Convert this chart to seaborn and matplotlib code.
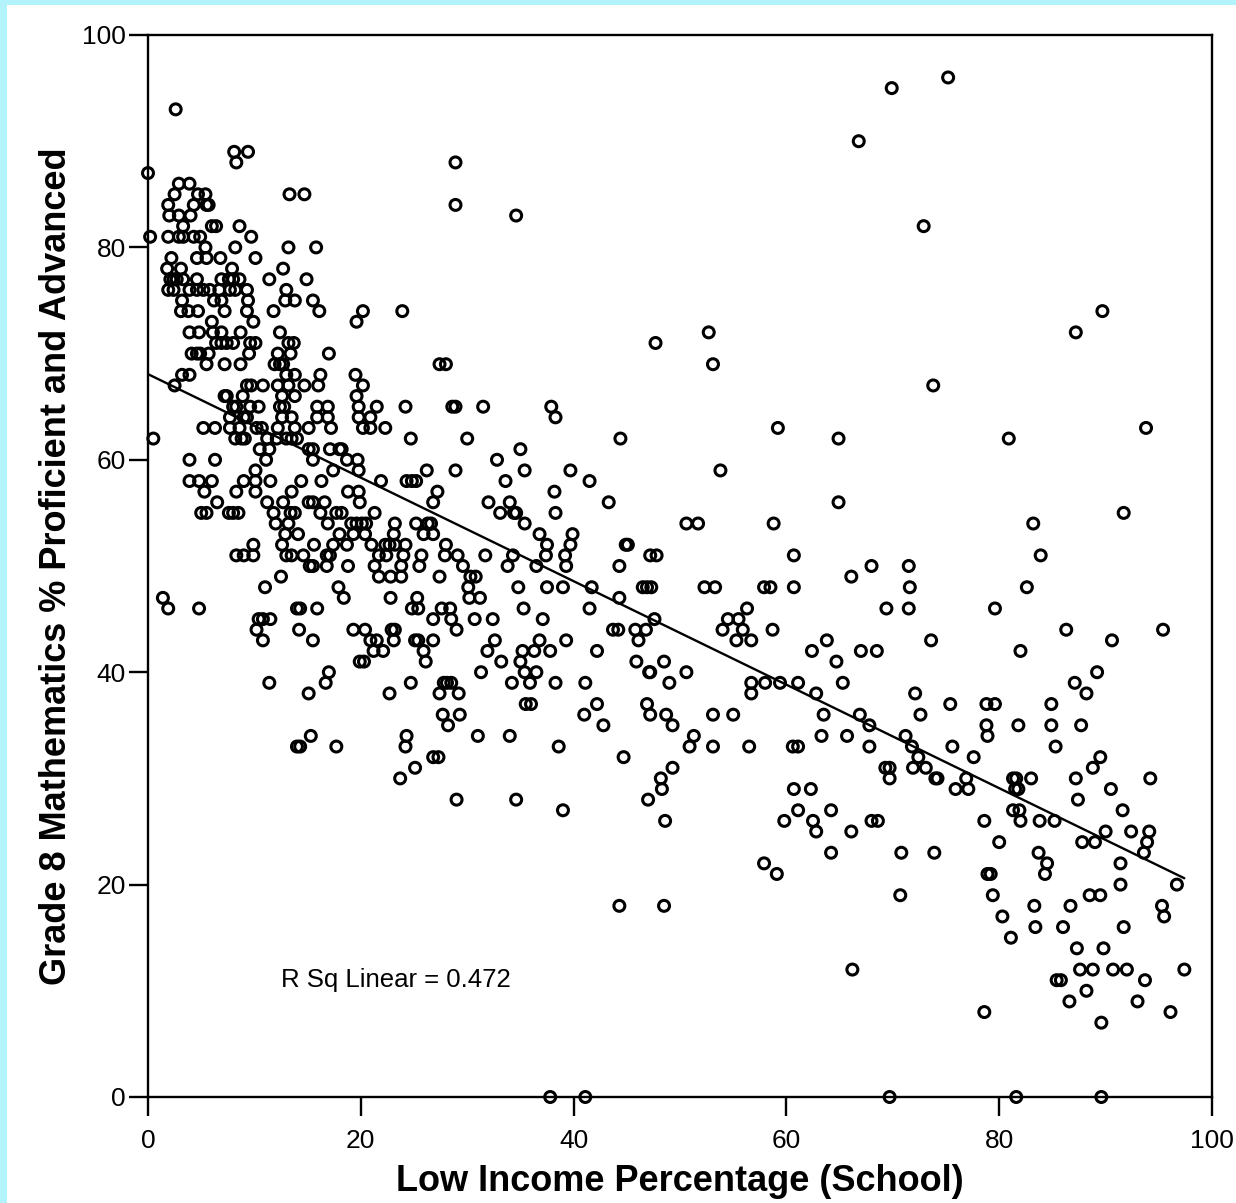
import matplotlib
matplotlib.use("Agg")
import matplotlib.pyplot as plt
import matplotlib.patches as mpatches
import seaborn as sns
import numpy as np
import pandas as pd

# Grade 8 math % proficient (integer levels) and the schools' low income % at each level
score_levels = [96, 95, 93, 90, 89, 88, 87, 86, 85, 84, 83, 82, 81, 80, 79, 78, 77, 76, 75, 74,
                73, 72, 71, 70, 69, 68, 67, 66, 65, 64, 63, 62, 61, 60, 59, 58, 57, 56, 55, 54,
                53, 52, 51, 50, 49, 48, 47, 46, 45, 44, 43, 42, 41, 40, 39, 38, 37, 36, 35, 34,
                33, 32, 31, 30, 29, 28, 27, 26, 25, 24, 23, 22, 21, 20, 19, 18, 17, 16, 15, 14,
                12, 11, 10, 9, 8, 7, 0]

income_by_level = [
    [75.2],
    [69.9],
    [2.6],
    [66.8],
    [8.1, 9.4],
    [8.3, 28.9],
    [0.0],
    [2.9, 3.9],
    [2.5, 4.7, 5.4, 13.3, 14.7],
    [1.9, 4.3, 5.5, 5.7, 28.9],
    [2.0, 2.9, 4.0, 34.6],
    [3.3, 6.0, 6.4, 8.6, 72.9],
    [0.2, 1.9, 2.9, 3.3, 4.3, 4.9, 9.7],
    [5.4, 8.2, 13.2, 15.8],
    [2.2, 4.6, 5.5, 6.8, 10.1],
    [1.8, 3.1, 7.9, 12.7],
    [2.1, 2.4, 2.7, 3.3, 4.6, 6.9, 7.6, 8.0, 8.6, 11.4, 14.9],
    [1.9, 2.4, 3.9, 4.6, 5.2, 5.8, 6.7, 7.7, 8.2, 9.3, 13.0],
    [3.2, 6.2, 6.9, 9.4, 12.9, 13.8, 15.5],
    [3.1, 3.8, 4.7, 7.2, 9.3, 11.8, 16.1, 20.2, 23.9, 89.7],
    [6.0, 9.9, 19.6],
    [3.9, 4.8, 6.1, 6.9, 8.7, 12.4, 52.7, 87.2],
    [6.4, 6.9, 7.4, 8.0, 9.6, 10.1, 13.2, 13.7, 47.7],
    [4.1, 4.6, 4.9, 5.7, 9.5, 12.2, 13.4, 17.0],
    [5.5, 7.2, 8.7, 11.9, 12.4, 12.7, 27.4, 28.0, 53.1],
    [3.2, 3.9, 13.0, 13.8, 16.2, 19.5],
    [2.5, 9.3, 9.7, 10.8, 12.2, 13.2, 14.7, 16.0, 20.2, 73.8],
    [7.2, 7.4, 8.9, 12.6, 13.8, 19.6],
    [8.0, 8.3, 9.6, 10.4, 12.4, 12.8, 15.9, 16.9, 19.8, 21.5, 24.2, 28.6, 28.9, 31.5, 37.9],
    [7.7, 9.0, 9.3, 12.6, 13.5, 15.9, 16.9, 19.8, 20.9, 38.3],
    [5.2, 6.3, 7.7, 8.6, 10.2, 10.7, 12.2, 13.8, 15.1, 17.2, 20.2, 20.9, 22.3, 59.2, 93.8],
    [0.5, 8.2, 8.8, 9.1, 11.2, 12.1, 13.0, 13.5, 14.0, 24.7, 30.0, 44.4, 64.9, 80.9],
    [10.5, 11.4, 15.1, 15.5, 17.1, 18.0, 18.2, 35.0],
    [3.9, 6.3, 11.1, 15.5, 18.7, 19.7, 32.8],
    [10.1, 17.4, 19.8, 26.2, 28.9, 35.4, 39.7, 53.8],
    [3.9, 4.8, 6.0, 9.0, 10.1, 11.5, 14.4, 16.3, 21.9, 24.3, 24.8, 25.2, 33.6, 41.5],
    [5.3, 8.3, 10.1, 13.5, 18.8, 19.8, 27.2, 38.2],
    [6.5, 11.2, 12.7, 15.1, 15.5, 16.6, 19.9, 26.8, 32.0, 34.0, 43.3, 64.9],
    [5.0, 5.5, 7.6, 8.0, 8.5, 11.8, 13.4, 13.8, 16.2, 17.7, 18.2, 21.3, 33.1, 34.4, 34.6,
     38.3, 91.7],
    [12.0, 13.2, 16.9, 19.1, 19.6, 20.1, 20.5, 23.2, 25.2, 26.3, 26.6, 35.4, 50.6, 51.7,
     58.8, 83.2],
    [12.9, 14.1, 18.0, 19.3, 20.4, 23.1, 25.9, 26.8, 36.8, 39.9],
    [9.9, 12.6, 15.6, 17.4, 18.7, 21.0, 22.3, 22.7, 23.2, 24.2, 28.0, 37.5, 39.7, 44.9, 45.1],
    [8.3, 9.0, 9.9, 13.0, 13.5, 14.6, 16.8, 17.1, 21.7, 22.4, 24.0, 25.7, 27.9, 29.1, 31.7,
     34.3, 37.4, 39.2, 47.2, 47.8, 60.7, 83.9],
    [15.2, 15.5, 16.8, 18.8, 21.3, 23.8, 25.5, 29.6, 33.8, 36.5, 39.3, 44.3, 68.0, 71.5],
    [12.5, 21.7, 22.8, 23.8, 27.4, 30.3, 30.8, 66.1],
    [11.0, 17.9, 30.1, 34.8, 37.5, 39.0, 41.7, 46.5, 46.9, 47.3, 52.3, 53.3, 57.9, 58.5,
     60.7, 71.6, 82.6],
    [1.4, 18.4, 22.8, 25.3, 30.2, 31.2, 44.3],
    [1.9, 4.8, 14.0, 14.3, 15.9, 24.8, 25.4, 27.6, 28.4, 35.3, 41.5, 56.3, 69.4, 71.5, 79.6],
    [10.4, 10.8, 11.5, 26.8, 28.5, 30.7, 32.4, 37.1, 47.6, 54.5, 55.5],
    [10.2, 14.2, 19.3, 20.4, 22.9, 23.2, 29.0, 43.7, 44.2, 45.8, 46.8, 54.0, 55.9, 58.7,
     86.3, 95.4],
    [10.8, 15.5, 20.9, 21.5, 23.1, 25.1, 25.4, 26.8, 32.6, 36.8, 39.3, 46.1, 55.3, 56.7,
     63.8, 73.6, 90.6],
    [21.2, 22.1, 25.9, 31.9, 35.2, 36.3, 37.8, 42.2, 62.4, 67.0, 68.5, 82.0],
    [19.9, 20.3, 26.1, 33.2, 35.0, 45.9, 48.5, 64.7],
    [17.0, 31.3, 35.4, 36.5, 47.1, 47.2, 50.6, 89.2],
    [11.4, 16.7, 24.7, 27.8, 28.1, 28.5, 34.2, 35.9, 38.3, 41.1, 49.0, 56.7, 58.0, 59.4,
     61.1, 65.3, 87.1],
    [15.1, 22.7, 27.4, 29.2, 56.7, 62.8, 72.1, 88.2],
    [35.5, 36.0, 42.2, 46.9, 75.4, 78.8, 79.6, 84.9],
    [27.7, 29.3, 41.0, 47.2, 48.7, 53.1, 55.0, 63.5, 66.9, 72.6],
    [28.2, 42.8, 49.3, 67.8, 78.8, 81.8, 84.9, 87.7],
    [15.3, 24.3, 31.0, 34.0, 51.3, 63.3, 65.7, 71.2, 78.9],
    [14.0, 14.3, 17.7, 24.2, 38.6, 50.9, 53.1, 56.5, 60.6, 61.1, 67.8, 71.8, 75.6, 85.3],
    [26.8, 27.3, 44.7, 72.4, 77.6, 89.5],
    [25.1, 49.3, 69.3, 69.7, 71.9, 73.1, 88.8],
    [23.7, 48.2, 69.7, 74.0, 74.2, 76.9, 81.3, 81.6, 83.0, 87.2, 94.2],
    [48.3, 60.7, 62.3, 75.9, 77.1, 81.5, 81.8, 90.5],
    [29.0, 34.6, 47.0, 87.4],
    [39.0, 61.1, 64.2, 81.3, 81.9, 91.6],
    [48.6, 59.8, 62.5, 68.0, 68.6, 78.6, 82.0, 83.8, 85.2],
    [62.8, 66.1, 90.0, 92.4, 94.1],
    [80.0, 87.8, 89.0, 93.9],
    [64.2, 70.8, 73.9, 83.7, 93.6],
    [57.9, 84.5, 91.4],
    [59.1, 78.9, 79.2, 84.3],
    [91.4, 96.7],
    [70.7, 79.4, 88.5, 89.5],
    [44.3, 48.5, 83.3, 86.7, 95.3],
    [80.3, 95.5],
    [83.4, 86.0, 91.7],
    [81.1],
    [87.3, 89.8],
    [66.2, 87.6, 88.8, 90.7, 92.0, 97.4],
    [85.4, 85.8, 93.7],
    [88.2],
    [86.6, 93.0],
    [78.6, 96.1],
    [89.6],
    [37.8, 41.1, 69.7, 81.6, 89.6],
]

rows = []
for level, xs in zip(score_levels, income_by_level):
    for xv in xs:
        rows.append((xv, level))
df = pd.DataFrame(rows, columns=["low_income", "math_pct"])

sns.set_style("white")
plt.rcParams["font.family"] = ["Liberation Sans", "DejaVu Sans"]

fig = plt.figure(figsize=(12.36, 12.03), dpi=100)
fig.patch.set_facecolor("#b2f3fc")
# white page inside the cyan frame
fig.patches.append(mpatches.Rectangle((7 / 1236, 0), 1, 1 - 5 / 1203,
                                      transform=fig.transFigure,
                                      facecolor="white", edgecolor="none", zorder=-10))

ax = fig.add_axes([148 / 1236, 1 - 1097 / 1203, 1064 / 1236, 1062 / 1203])
ax.set_zorder(5)
sns.regplot(data=df, x="low_income", y="math_pct", ax=ax, ci=None, color="black",
            marker="o",
            scatter_kws=dict(s=62, facecolors="none", edgecolors="black",
                             linewidths=2.2, alpha=1, clip_on=False, zorder=3),
            line_kws=dict(color="black", lw=1.7, zorder=2))

ax.set_xlim(0, 100)
ax.set_ylim(0, 100)
ax.set_xticks([0, 20, 40, 60, 80, 100])
ax.set_yticks([0, 20, 40, 60, 80, 100])
for side in ["left", "right", "top", "bottom"]:
    ax.spines[side].set_visible(True)
    ax.spines[side].set_linewidth(1.7)
    ax.spines[side].set_color("black")
ax.tick_params(axis="both", direction="out", length=14, width=1.7, color="black",
               labelsize=19, labelcolor="black")
ax.tick_params(axis="x", pad=9, bottom=True)
ax.tick_params(axis="y", pad=2, left=True)

ax.set_xlabel("Low Income Percentage (School)", fontsize=26, fontweight="bold",
              color="black", labelpad=8)
ax.set_ylabel("Grade 8 Mathematics % Proficient and Advanced", fontsize=26,
              fontweight="bold", color="black", labelpad=6)
ax.text(12.5, 11.0, "R Sq Linear = 0.472", fontsize=18.5, ha="left", va="center",
        color="black")

fig.savefig("out.png", dpi=100, facecolor=fig.get_facecolor())
